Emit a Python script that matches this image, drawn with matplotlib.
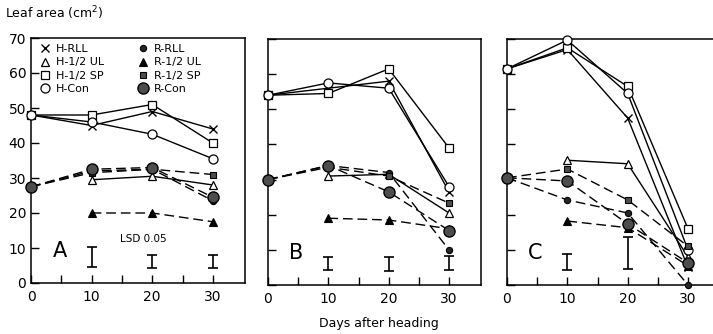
import matplotlib
matplotlib.use("Agg")
import matplotlib.pyplot as plt
from matplotlib.lines import Line2D

days = [0, 10, 20, 30]
days_ul = [10, 20, 30]

# panel A
a_h_rll = [48, 45, 49, 44]
a_h_ul = [29.5, 30.5, 28]
a_h_sp = [48, 48, 51, 40]
a_h_con = [48, 46, 42.5, 35.5]
a_r_rll = [27.5, 32, 32.5, 23.5]
a_r_ul = [20, 20, 17.5]
a_r_sp = [27.5, 31.5, 32.5, 31]
a_r_con = [27.5, 32.5, 33, 24.5]
a_lsd_x = [10, 20, 30]
a_lsd_mid = [7.4, 6.2, 6.2]
a_lsd_half = [2.9, 1.9, 1.9]

# panel B
b_h_rll = [54, 56, 58, 26.5]
b_h_ul = [31, 31.5, 20.5]
b_h_sp = [54, 54.5, 61.5, 39]
b_h_con = [54, 57.5, 56, 28]
b_r_rll = [30, 34, 32, 10]
b_r_ul = [19, 18.5, 16]
b_r_sp = [30, 33.5, 31, 23.3]
b_r_con = [30, 34, 26.5, 15.5]
b_lsd_x = [10, 20, 30]
b_lsd_mid = [6.2, 6.0, 6.3]
b_lsd_half = [1.9, 2.0, 2.0]

# panel C
c_h_rll = [61.5, 67, 47.5, 5]
c_h_ul = [35.5, 34.5, 8]
c_h_sp = [61.5, 67.5, 56.5, 16]
c_h_con = [61.5, 69.7, 54.5, 10]
c_r_rll = [30.5, 24.2, 20.5, 0]
c_r_ul = [18.2, 16.3, 5.5]
c_r_sp = [30.5, 33, 24.2, 11]
c_r_con = [30.5, 29.6, 17.4, 6.3]
c_lsd_x = [10, 20]
c_lsd_mid = [6.6, 9.1]
c_lsd_half = [2.2, 4.6]

labels = ["H-RLL", "H-1/2 UL", "H-1/2 SP", "H-Con",
          "R-RLL", "R-1/2 UL", "R-1/2 SP", "R-Con"]

# marker styles for each treatment
styles = {
    "H-RLL": dict(marker="x", ms=5.5, mfc="black", mec="black", mew=1.0),
    "H-1/2 UL": dict(marker="^", ms=5.5, mfc="white", mec="black", mew=0.9),
    "H-1/2 SP": dict(marker="s", ms=6, mfc="white", mec="black", mew=0.9),
    "H-Con": dict(marker="o", ms=6.5, mfc="white", mec="black", mew=0.9),
    "R-RLL": dict(marker="o", ms=4.5, mfc="0.15", mec="black", mew=0.8),
    "R-1/2 UL": dict(marker="^", ms=5.5, mfc="black", mec="black", mew=0.8),
    "R-1/2 SP": dict(marker="s", ms=5, mfc="0.3", mec="black", mew=0.8),
    "R-Con": dict(marker="o", ms=8, mfc="0.3", mec="black", mew=1.0),
}

plt.rcParams['font.family'] = ['DejaVu Sans']

fig = plt.figure(figsize=(7.13, 3.34), dpi=100)
ax_a = fig.add_axes([31 / 713, 51 / 334, 214 / 713, 245 / 334])
ax_b = fig.add_axes([268 / 713, 49 / 334, 213 / 713, 246 / 334])
ax_c = fig.add_axes([507 / 713, 49 / 334, 213 / 713, 246 / 334])


def draw_panel(ax, series, lsd_x, lsd_mid, lsd_half, letter, show_ylabels):
    for name, xs, ys in series:
        ls = "-" if name.startswith("H") else (0, (7, 3.5))
        ax.plot(xs, ys, color="black", lw=1.0, linestyle=ls, zorder=2, clip_on=False)
    for name, xs, ys in series:
        ax.plot(xs, ys, linestyle="none", zorder=3, clip_on=False, **styles[name])

    # LSD 0.05 bars
    ax.errorbar(lsd_x, lsd_mid, yerr=lsd_half, fmt="none", ecolor="black",
                elinewidth=1.2, capsize=3.5, capthick=1.2)

    ax.text(4.7, 9.1, letter, fontsize=15, ha="center", va="center")

    ax.set_xlim(0, 35.3)
    ax.set_ylim(0, 70)
    ax.set_xticks([0, 10, 20, 30])
    ax.set_xticks([5, 15, 25], minor=True)
    ax.set_yticks(range(0, 71, 10))
    ax.tick_params(direction="in", length=6, width=1.0, labelsize=10)
    ax.tick_params(which="minor", direction="in", length=6, width=1.0)
    ax.tick_params(axis="x", pad=5)
    if not show_ylabels:
        ax.set_yticklabels([])
    for sp in ax.spines.values():
        sp.set_linewidth(1.1)


draw_panel(ax_a, [
    ("H-RLL", days, a_h_rll), ("H-1/2 UL", days_ul, a_h_ul),
    ("H-1/2 SP", days, a_h_sp), ("H-Con", days, a_h_con),
    ("R-RLL", days, a_r_rll), ("R-1/2 UL", days_ul, a_r_ul),
    ("R-1/2 SP", days, a_r_sp), ("R-Con", days, a_r_con),
], a_lsd_x, a_lsd_mid, a_lsd_half, "A", True)

draw_panel(ax_b, [
    ("H-RLL", days, b_h_rll), ("H-1/2 UL", days_ul, b_h_ul),
    ("H-1/2 SP", days, b_h_sp), ("H-Con", days, b_h_con),
    ("R-RLL", days, b_r_rll), ("R-1/2 UL", days_ul, b_r_ul),
    ("R-1/2 SP", days, b_r_sp), ("R-Con", days, b_r_con),
], b_lsd_x, b_lsd_mid, b_lsd_half, "B", False)

draw_panel(ax_c, [
    ("H-RLL", days, c_h_rll), ("H-1/2 UL", days_ul, c_h_ul),
    ("H-1/2 SP", days, c_h_sp), ("H-Con", days, c_h_con),
    ("R-RLL", days, c_r_rll), ("R-1/2 UL", days_ul, c_r_ul),
    ("R-1/2 SP", days, c_r_sp), ("R-Con", days, c_r_con),
], c_lsd_x, c_lsd_mid, c_lsd_half, "C", False)

ax_a.text(18.5, 12.6, "LSD 0.05", fontsize=7.5, ha="center", va="center")

# legend inside panel A, markers only
handles = [Line2D([], [], linestyle="none", **styles[n]) for n in labels]
ax_a.legend(handles, labels, ncol=2, loc="upper left", bbox_to_anchor=(0.01, 1.0),
            frameon=False, fontsize=8, handlelength=1.0, handletextpad=0.5,
            columnspacing=3.0, labelspacing=0.3, borderaxespad=0.15)

fig.text(5 / 713, 1 - 13 / 334, "Leaf area (cm$^2$)", fontsize=9, ha="left", va="center")
fig.text(379 / 713, 1 - 323 / 334, "Days after heading", fontsize=9, ha="center", va="center")

fig.savefig("out.png", dpi=100)
